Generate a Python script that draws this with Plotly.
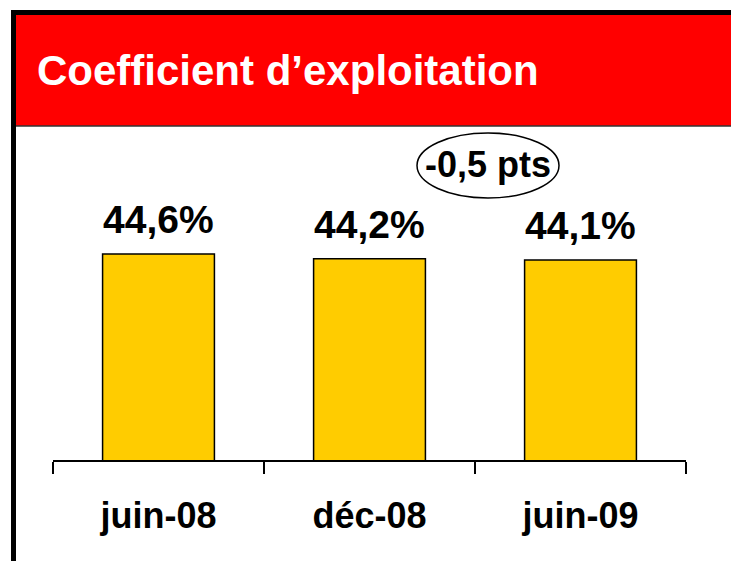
import plotly.graph_objects as go

categories = ["juin-08", "déc-08", "juin-09"]
values = [44.6, 44.2, 44.1]
value_labels = ["44,6%", "44,2%", "44,1%"]
title_text = "Coefficient d’exploitation"
delta_text = "-0,5 pts"

W, H = 731, 561
# plot area in window pixels
AX_L, AX_R, AX_T, AX_B = 53, 686, 140, 460
L, R, T, B = AX_L, W - AX_R, AX_T, H - AX_B
PW = W - L - R
PH = H - T - B

def px_x(p):
    return (p - AX_L) / PW

def px_y(p):
    return (AX_B - p) / PH

FONT = "Liberation Sans, Arial, sans-serif"

fig = go.Figure()
fig.add_trace(go.Bar(
    x=categories, y=values,
    marker=dict(color="#FFCC00", line=dict(color="#000000", width=1.5)),
    width=0.53,
    hoverinfo="skip",
))

annotations = []
for c, v, t in zip(categories, values, value_labels):
    annotations.append(dict(
        x=c, y=v, xref="x", yref="y", text=f"<b>{t}</b>", showarrow=False,
        yanchor="bottom", yshift=11,
        font=dict(family=FONT, size=39, color="#000000"),
    ))

annotations.append(dict(
    x=px_x(35), y=px_y(70), xref="paper", yref="paper", text=f"<b>{title_text}</b>",
    showarrow=False, xanchor="left", yanchor="middle",
    font=dict(family=FONT, size=42, color="#FFFFFF"),
))
annotations.append(dict(
    x=px_x(488), y=px_y(164), xref="paper", yref="paper", text=f"<b>{delta_text}</b>",
    showarrow=False, xanchor="center", yanchor="middle",
    font=dict(family=FONT, size=36, color="#000000"),
))

shapes = [
    # red header band
    dict(type="rect", xref="paper", yref="paper", x0=px_x(16), x1=px_x(W + 5),
         y0=px_y(15), y1=px_y(126), fillcolor="#FF0000", line=dict(width=0), layer="below"),
    dict(type="line", xref="paper", yref="paper", x0=px_x(16), x1=px_x(W + 5),
         y0=px_y(126), y1=px_y(126), line=dict(color="#333333", width=1.5)),
    # black frame top
    dict(type="rect", xref="paper", yref="paper", x0=px_x(11), x1=px_x(W + 5),
         y0=px_y(10), y1=px_y(15), fillcolor="#000000", line=dict(width=0)),
    # black frame left
    dict(type="rect", xref="paper", yref="paper", x0=px_x(11), x1=px_x(16),
         y0=px_y(10), y1=px_y(H + 5), fillcolor="#000000", line=dict(width=0)),
    # ellipse
    dict(type="circle", xref="paper", yref="paper", x0=px_x(417), x1=px_x(559),
         y0=px_y(133), y1=px_y(198), line=dict(color="#000000", width=1.5)),
]

fig.update_layout(
    width=W, height=H,
    margin=dict(l=L, r=R, t=T, b=B, pad=0),
    paper_bgcolor="#FFFFFF", plot_bgcolor="rgba(0,0,0,0)",
    showlegend=False,
    annotations=annotations,
    shapes=shapes,
    bargap=0.47,
)
fig.update_xaxes(
    showline=True, linecolor="#000000", linewidth=1.5,
    ticks="outside", ticklen=12, tickwidth=1.5, tickcolor="#000000",
    tickson="boundaries", showgrid=False, zeroline=False,
    tickfont=dict(family=FONT, size=36, color="#000000", weight="bold"),
    ticklabelstandoff=23,
)
fig.update_yaxes(visible=False, range=[27.43, 27.43 + PH / 12.0], fixedrange=True)

fig.write_html(
    "out.html",
    config={"displayModeBar": False},
    post_script="document.body.style.margin='0';document.body.style.overflow='hidden';",
)
